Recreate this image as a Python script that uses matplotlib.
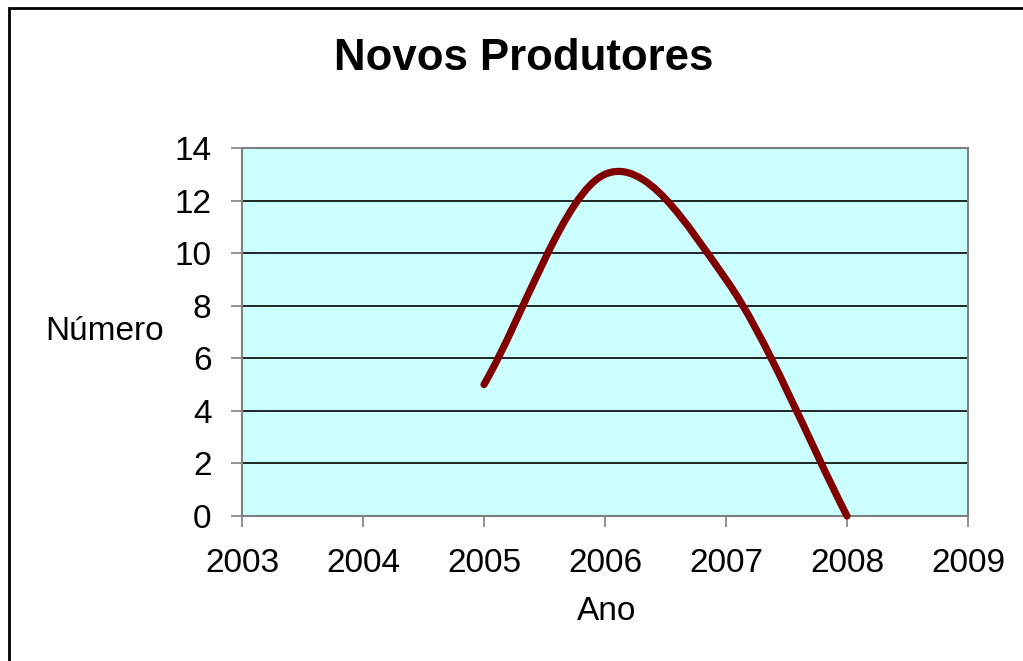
import matplotlib
matplotlib.use("Agg")
import matplotlib.pyplot as plt
from matplotlib.path import Path
from matplotlib.patches import PathPatch, Rectangle

plt.rcParams['font.family'] = ['Liberation Sans', 'DejaVu Sans']

# Data
years = [2005, 2006, 2007, 2008]
values = [5, 13, 9, 0]
x_ticks = [2003, 2004, 2005, 2006, 2007, 2008, 2009]
y_ticks = [0, 2, 4, 6, 8, 10, 12, 14]
title = "Novos Produtores"
xlabel = "Ano"
ylabel = "Número"

W, H = 1023, 661
fig = plt.figure(figsize=(W / 100, H / 100), dpi=100)
fig.patch.set_facecolor('white')

# outer chart frame (extends past the image on right/bottom)
fig.patches.append(Rectangle((9 / W, -0.05), 1.2, 1 - 8 / H + 0.05,
                             transform=fig.transFigure, fill=False,
                             edgecolor='black', linewidth=2.0))

ax = fig.add_axes([242 / W, 1 - 516 / H, (968 - 242) / W, (516 - 148) / H])
ax.set_facecolor('#CCFFFF')
ax.set_xlim(2003, 2009)
ax.set_ylim(0, 14)
ax.set_xticks(x_ticks)
ax.set_yticks(y_ticks)
ax.set_xticklabels([str(t) for t in x_ticks])
ax.set_yticklabels([str(t) for t in y_ticks])
for s in ax.spines.values():
    s.set_color('#808080')
    s.set_linewidth(1.5)
ax.tick_params(axis='both', direction='out', length=8, width=1.2,
               color='#808080', labelsize=24, labelcolor='black')
ax.tick_params(axis='y', pad=14)
ax.tick_params(axis='x', pad=15)
ax.yaxis.grid(True, color='black', linewidth=1.2)
ax.set_axisbelow(True)

# Smoothed line (Bezier, Excel-style smoothing), built from the data points
pts = list(zip(years, values))
n = len(pts)
verts = [pts[0]]
codes = [Path.MOVETO]
for i in range(n - 1):
    p0 = pts[i - 1] if i > 0 else None
    p1 = pts[i]
    p2 = pts[i + 1]
    p3 = pts[i + 2] if i + 2 < n else None
    if p0 is None:
        c1 = (p1[0] + (p2[0] - p1[0]) / 3, p1[1] + (p2[1] - p1[1]) / 3)
    else:
        c1 = (p1[0] + (p2[0] - p0[0]) / 6, p1[1] + (p2[1] - p0[1]) / 6)
    if p3 is None:
        c2 = (p2[0] - (p2[0] - p1[0]) / 3, p2[1] - (p2[1] - p1[1]) / 3)
    else:
        c2 = (p2[0] - (p3[0] - p1[0]) / 6, p2[1] - (p3[1] - p1[1]) / 6)
    verts += [c1, c2, p2]
    codes += [Path.CURVE4] * 3
patch = PathPatch(Path(verts, codes), facecolor='none', edgecolor='#800000',
                  linewidth=5.2, capstyle='round', joinstyle='round', zorder=3)
patch.set_clip_on(False)
ax.add_patch(patch)

fig.text(524 / W, 1 - 58 / H, title, ha='center', va='center',
         fontsize=31.5, fontweight='bold')
fig.text(105 / W, 1 - 332 / H, ylabel, ha='center', va='center', fontsize=24)
fig.text(607 / W, 1 - 611 / H, xlabel, ha='center', va='center', fontsize=24)

fig.savefig('out.png', dpi=100)
